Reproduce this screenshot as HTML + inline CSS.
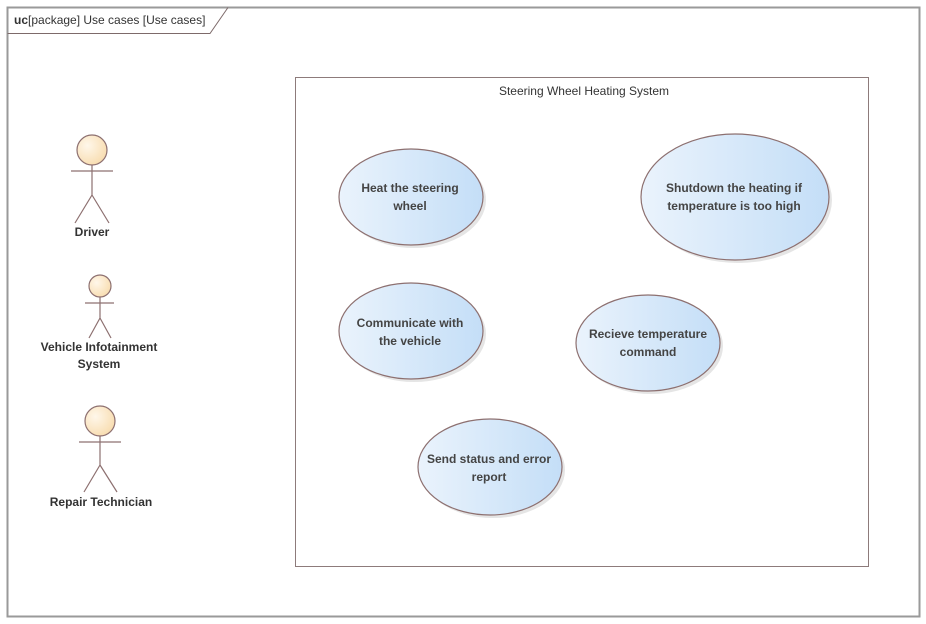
<!DOCTYPE html>
<html><head><meta charset="utf-8"><style>
html,body{margin:0;padding:0;background:#fff;width:926px;height:624px;overflow:hidden}
text{font-family:"Liberation Sans",sans-serif}
</style></head><body>
<svg width="926" height="624" viewBox="0 0 926 624" xmlns="http://www.w3.org/2000/svg">
<defs>
<linearGradient id="uc" x1="0" y1="0" x2="1" y2="0">
<stop offset="0" stop-color="#eaf3fc"/><stop offset="1" stop-color="#c4def7"/>
</linearGradient>
<radialGradient id="hd" cx="0.35" cy="0.35" r="0.8">
<stop offset="0" stop-color="#fff7ea"/><stop offset="1" stop-color="#f7d9a8"/>
</radialGradient>
</defs>
<rect x="7.5" y="7.5" width="912" height="609" fill="none" stroke="#9a9a9a" stroke-width="2"/>
<path d="M7.5 33.5 H210 L228 7.5" fill="none" stroke="#7d6a6a" stroke-width="1"/>
<text x="14" y="24" font-size="12" fill="#333"><tspan font-weight="bold">uc</tspan>[package] Use cases [Use cases]</text>
<rect x="295.5" y="77.5" width="573" height="489" fill="#fff" stroke="#8d7b7b"/>
<text x="584" y="95" font-size="12" fill="#333" text-anchor="middle">Steering Wheel Heating System</text>
<g stroke="#8d7070" stroke-width="1.2" fill="none">
<circle cx="92" cy="150" r="15" fill="url(#hd)"/>
<path d="M71 171H113M92 165V195L75 223M92 195L109 223"/>
<circle cx="100" cy="286" r="11" fill="url(#hd)"/>
<path d="M85 303H114M100 297V318L89 338M100 318L111 338"/>
<circle cx="100" cy="421" r="15" fill="url(#hd)"/>
<path d="M79 442H121M100 436V465L84 492M100 465L117 492"/>
</g>
<g font-size="12" font-weight="bold" fill="#333" text-anchor="middle">
<text x="92" y="236">Driver</text>
<text x="99" y="351">Vehicle Infotainment</text>
<text x="99" y="368">System</text>
<text x="101" y="506">Repair Technician</text>
</g>
<g stroke="#8d7070" stroke-width="1.2" fill="url(#uc)">
<ellipse cx="414" cy="200" rx="72" ry="48" fill="#ccc" stroke="none" opacity="0.5"/>
<ellipse cx="411" cy="197" rx="72" ry="48"/>
<ellipse cx="738" cy="200" rx="94" ry="63" fill="#ccc" stroke="none" opacity="0.5"/>
<ellipse cx="735" cy="197" rx="94" ry="63"/>
<ellipse cx="414" cy="334" rx="72" ry="48" fill="#ccc" stroke="none" opacity="0.5"/>
<ellipse cx="411" cy="331" rx="72" ry="48"/>
<ellipse cx="651" cy="346" rx="72" ry="48" fill="#ccc" stroke="none" opacity="0.5"/>
<ellipse cx="648" cy="343" rx="72" ry="48"/>
<ellipse cx="493" cy="470" rx="72" ry="48" fill="#ccc" stroke="none" opacity="0.5"/>
<ellipse cx="490" cy="467" rx="72" ry="48"/>
</g>
<g font-size="12" font-weight="bold" fill="#444" text-anchor="middle">
<text x="410" y="192">Heat the steering</text><text x="410" y="210">wheel</text>
<text x="734" y="192">Shutdown the heating if</text><text x="734" y="210">temperature is too high</text>
<text x="410" y="327">Communicate with</text><text x="410" y="345">the vehicle</text>
<text x="648" y="338">Recieve temperature</text><text x="648" y="356">command</text>
<text x="489" y="463">Send status and error</text><text x="489" y="481">report</text>
</g>
</svg>
</body></html>
